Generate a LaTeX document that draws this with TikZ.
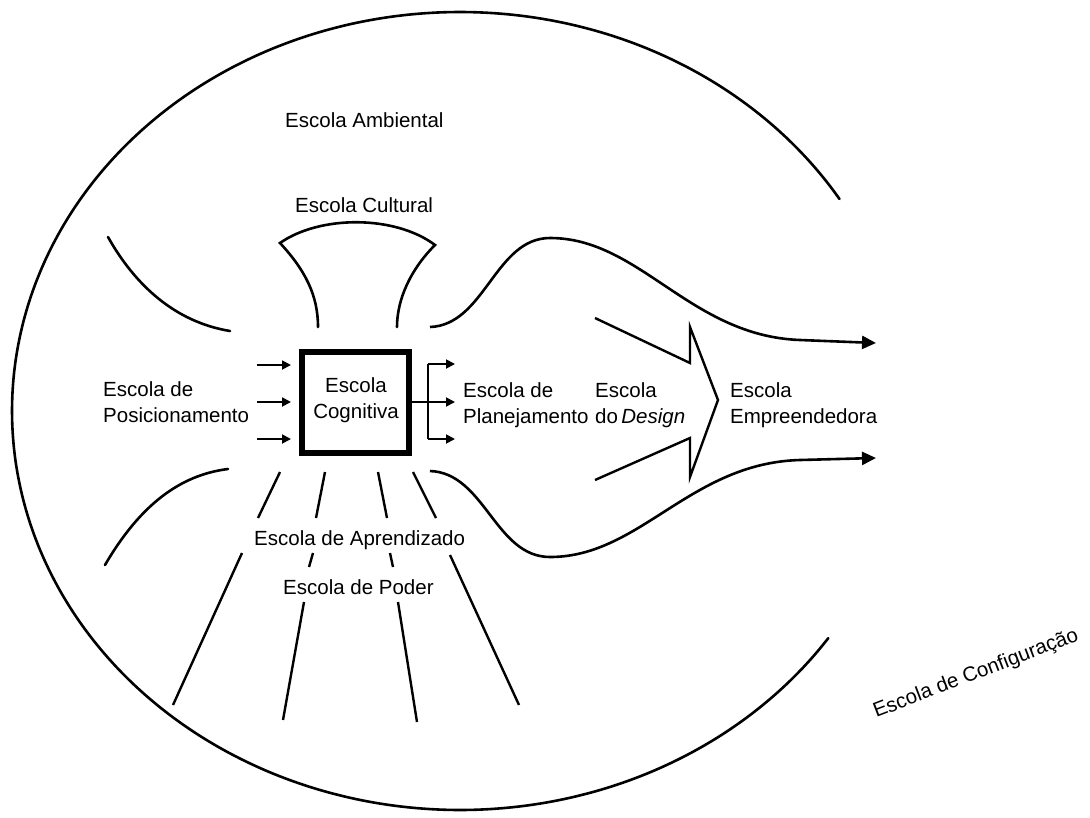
\documentclass[tikz,border=0pt]{standalone}
\usepackage{fontspec}
\setmainfont{Liberation Sans}
\usetikzlibrary{arrows.meta}
\begin{document}
\begin{tikzpicture}[x=1pt,y=-1pt,
  lbl/.style={font=\fontsize{20.5}{26}\selectfont, inner sep=0pt, align=left},
  curve/.style={line width=2.6pt, line cap=round},
  ray/.style={line width=2.4pt},
  smallarrow/.style={line width=1.8pt, -{Triangle[length=9pt,width=9pt]}},
  bigarrow/.style={line width=2.6pt, -{Triangle[length=14pt,width=13pt]}},
  cogbox/.style={draw, line width=6pt, minimum width=107pt, minimum height=101pt,
    inner sep=0pt}]
\useasboundingbox (0,0) rectangle (1090,817);

% outer ellipse (Escola de Configuracao)
\draw[curve] plot[domain=32.1:325.3, samples=160, smooth] ({460+448*cos(\x)},{411-399*sin(\x)});

% labels (base anchor = baseline of the last line)
\node[lbl, anchor=base west] (amb) at (285,127) {Escola Ambiental};
\node[lbl, anchor=base west] (cult) at (295,212) {Escola Cultural};
\node[lbl, anchor=base west] (pos) at (103,422) {Escola de\\Posicionamento};
\node[lbl, anchor=base west] (plan) at (463,423) {Escola de\\Planejamento};
\node[lbl, anchor=base west] (design) at (595,423) {Escola\\do\,\textit{Design}};
\node[lbl, anchor=base west] (emp) at (730,423) {Escola\\Empreendedora};
\node[lbl, anchor=base west] (apr) at (254,545) {Escola de Aprendizado};
\node[lbl, anchor=base west] (poder) at (283,594) {Escola de Poder};
\node[lbl, rotate=21] (config) at (976,674) {Escola de Configuração};

% cognitive box
\node[cogbox] (cog) at (355,402) {};
\node[lbl, align=center, anchor=base] (cogtext) at (356,418) {Escola\\Cognitiva};

% cultural funnel
\coordinate (cl) at (318,327);
\coordinate (cr) at (397,327);
\draw[curve] (cl) .. controls (318,295) and (305,270) .. (280,243)
  .. controls (320,215) and (395,215) .. (435,245)
  .. controls (410,270) and (397,300) .. (cr);

% left curves
\coordinate (tl1) at (108,237); \coordinate (tl2) at (230,331);
\draw[curve] (tl1) .. controls (135,285) and (175,322) .. (tl2);
\coordinate (bl1) at (228,469); \coordinate (bl2) at (105,565);
\draw[curve] (bl1) .. controls (180,475) and (140,505) .. (bl2);

% wavy arrows to the right
\coordinate (wu0) at (430,327); \coordinate (wu1) at (876,343);
\draw[bigarrow] (wu0) .. controls (485,325) and (495,238) .. (550,238)
  .. controls (640,238) and (690,336) .. (800,340) -- (wu1);
\coordinate (wl0) at (430,471); \coordinate (wl1) at (876,458);
\draw[bigarrow] (wl0) .. controls (485,473) and (495,557) .. (550,557)
  .. controls (640,557) and (690,463) .. (800,460) -- (wl1);

% inputs to box
\foreach \y/\n in {365/a,402/b,439/c}{
  \coordinate (in\n) at (257,\y);
  \coordinate (to\n) at (291,\y);
  \draw[smallarrow] (in\n) -- (to\n);
}
% outputs from box
\coordinate (ob) at (428,364); \coordinate (oc) at (428,439);
\coordinate (ta) at (455,364); \coordinate (tb) at (455,402); \coordinate (tc) at (455,439);
\draw[line width=1.8pt] (ob) -- (oc);
\draw[smallarrow] (ob) -- (ta);
\draw[smallarrow] (oc) -- (tc);
\draw[smallarrow] (cog.east |- tb) -- (tb);

% design chevron
\draw[line width=2.4pt, line join=miter] (595,318) -- (690,363) -- (690,327) -- (718,400)
  -- (690,477) -- (690,438) -- (595,480);

% rays below
\draw[ray] (280,472) -- (258,518);
\draw[ray] (242,553) -- (173,705);
\draw[ray] (325,472) -- (316,518);
\draw[ray] (313,553) -- (309,567);
\draw[ray] (304,602) -- (283,720);
\draw[ray] (378,472) -- (387,518);
\draw[ray] (390,553) -- (393,567);
\draw[ray] (398,602) -- (417,722);
\draw[ray] (413,472) -- (436,518);
\draw[ray] (450,555) -- (519,705);
\end{tikzpicture}
\end{document}
